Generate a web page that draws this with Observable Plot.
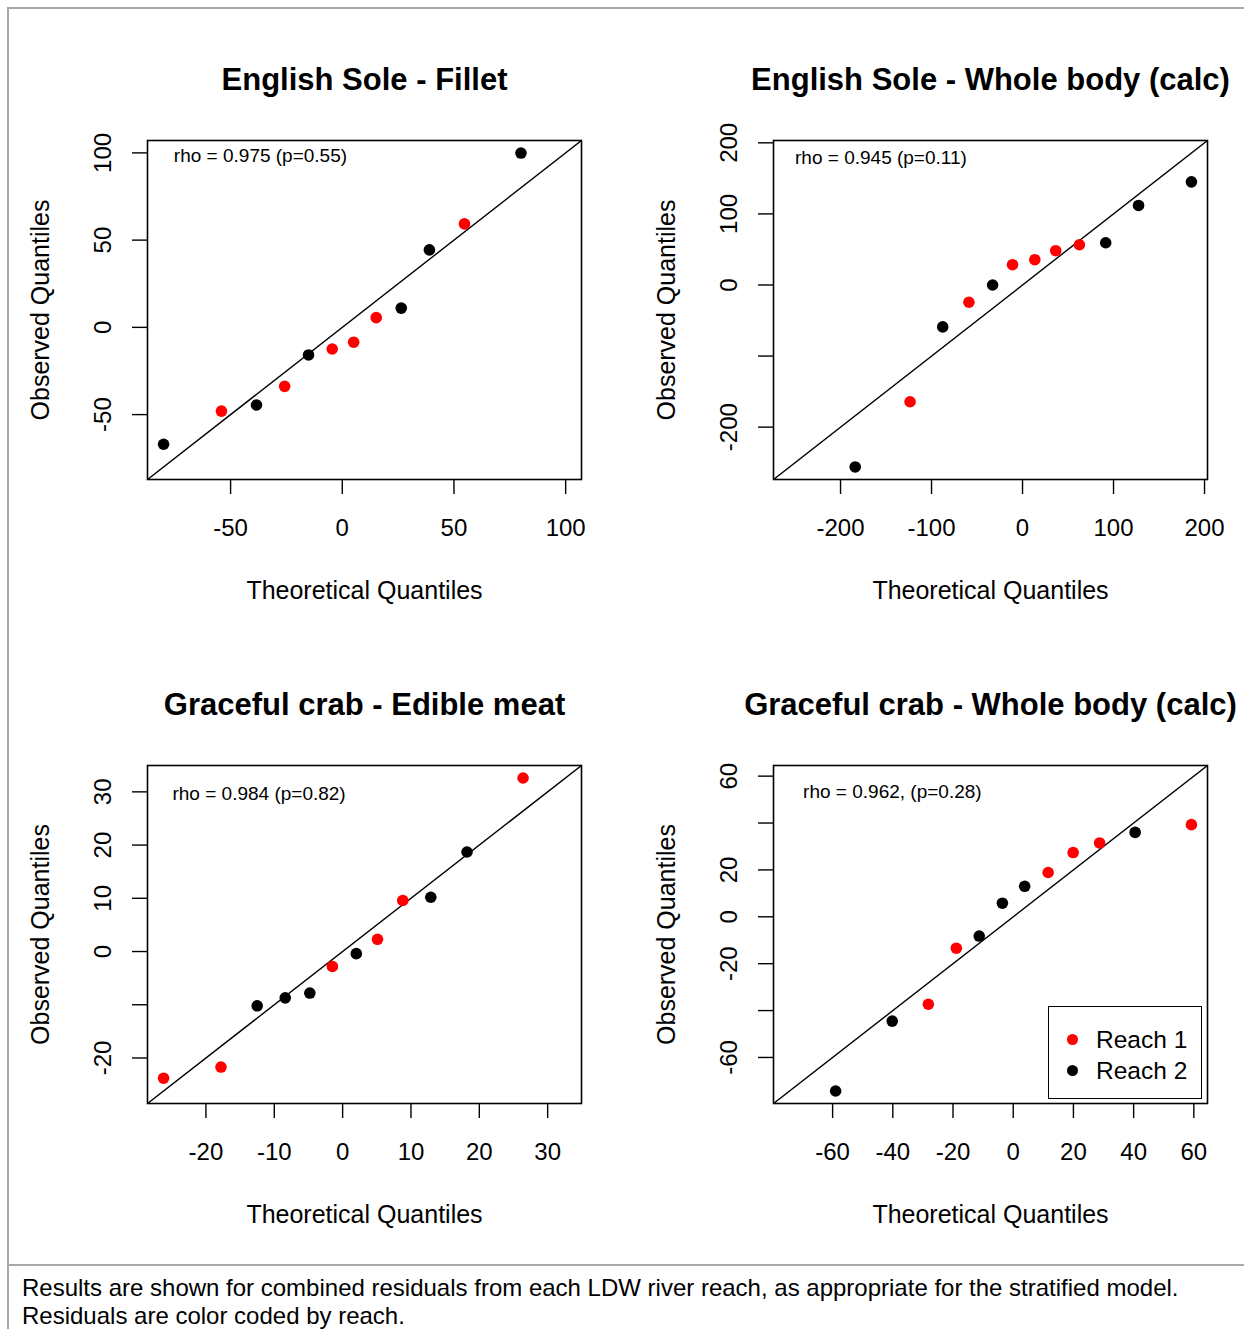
<!DOCTYPE html>
<html><head><meta charset="utf-8">
<script src="https://cdn.jsdelivr.net/npm/d3@7"></script>
<script src="https://cdn.jsdelivr.net/npm/@observablehq/plot@0.6"></script>
<style>
html,body{margin:0;padding:0;background:#fff;}
#root{position:relative;width:1244px;height:1329px;overflow:hidden;font-family:"Liberation Sans",Arial,Helvetica,sans-serif;color:#000;background:#fff;}
.outer{position:absolute;left:7px;top:7px;width:1260px;height:1360px;border-left:2px solid #a8a8a8;border-top:2px solid #a8a8a8;}
.sep{position:absolute;left:7px;top:1264px;width:1260px;height:0;border-top:2px solid #a8a8a8;}
.caption{position:absolute;left:22px;top:1274px;font-size:24px;line-height:28px;white-space:nowrap;}
.panel{position:absolute;}
.legend{position:absolute;left:1048px;top:1006px;width:154px;height:93px;box-sizing:border-box;border:1.5px solid #000;background:#fff;padding-top:17px;}
.legend .row{display:flex;align-items:center;height:31px;font-size:24.5px;}
.legend .sw{width:11px;height:11px;border-radius:50%;margin-left:18px;margin-right:18px;}
</style>
</head><body>
<div id="root">
  <div class="outer"></div>
  <div class="sep"></div>
</div>
<script>
// ---------------- data ----------------
const panelTitles = [
  "English Sole - Fillet",
  "English Sole - Whole body (calc)",
  "Graceful crab - Edible meat",
  "Graceful crab - Whole body (calc)"
];
const rhoLabels = [
  "rho = 0.975 (p=0.55)",
  "rho = 0.945 (p=0.11)",
  "rho = 0.984 (p=0.82)",
  "rho = 0.962, (p=0.28)"
];
const reachNames = ["Reach 1", "Reach 2"];
const reachColors = ["#ff0000", "#000000"];
const xAxisTitle = "Theoretical Quantiles";
const yAxisTitle = "Observed Quantiles";
const captionLines = [
  "Results are shown for combined residuals from each LDW river reach, as appropriate for the stratified model.",
  "Residuals are color coded by reach."
];

// English Sole - Fillet
const esFilletTheo  = [-80.0, -54.1, -38.4, -25.8, -15.1, -4.5, 5.1, 15.2, 26.4, 39.0, 54.7, 80.0];
const esFilletObs   = [-67.0, -48.0, -44.5, -33.8, -15.8, -12.4, -8.5, 5.6, 11.0, 44.4, 59.3, 99.9];
const esFilletReach = [2, 1, 2, 1, 2, 1, 1, 1, 2, 2, 1, 2];
// English Sole - Whole body (calc)
const esWholeTheo  = [-183.9, -123.6, -87.7, -58.9, -32.9, -11.0, 13.5, 36.5, 62.5, 91.4, 127.5, 185.6];
const esWholeObs   = [-256.0, -164.3, -59.0, -24.3, 0.0, 28.5, 35.6, 48.2, 56.6, 59.4, 111.9, 145.1];
const esWholeReach = [2, 1, 2, 1, 2, 1, 1, 1, 1, 2, 2, 2];
// Graceful crab - Edible meat
const gcMeatTheo  = [-26.2, -17.8, -12.5, -8.4, -4.8, -1.5, 2.0, 5.1, 8.8, 12.9, 18.2, 26.4];
const gcMeatObs   = [-23.8, -21.7, -10.2, -8.7, -7.8, -2.8, -0.4, 2.3, 9.6, 10.2, 18.7, 32.6];
const gcMeatReach = [1, 1, 2, 2, 2, 1, 2, 1, 1, 2, 2, 1];
// Graceful crab - Whole body (calc)
const gcWholeTheo  = [-59.0, -40.2, -28.2, -18.9, -11.3, -3.6, 3.8, 11.6, 19.9, 28.7, 40.5, 59.2];
const gcWholeObs   = [-74.3, -44.5, -37.3, -13.4, -8.2, 5.8, 13.0, 18.9, 27.4, 31.5, 36.0, 39.3];
const gcWholeReach = [2, 2, 1, 1, 2, 2, 2, 1, 1, 1, 2, 1];

// tick values (all ticks) and the labelled subset
const esFilletXTicks = [-50, 0, 50, 100];
const esFilletYTicks = [-50, 0, 50, 100];
const esFilletYLabels = [-50, 0, 50, 100];
const esWholeXTicks = [-200, -100, 0, 100, 200];
const esWholeYTicks = [-200, -100, 0, 100, 200];
const esWholeYLabels = [-200, 0, 100, 200];
const gcMeatXTicks = [-20, -10, 0, 10, 20, 30];
const gcMeatYTicks = [-20, -10, 0, 10, 20, 30];
const gcMeatYLabels = [-20, 0, 10, 20, 30];
const gcWholeXTicks = [-60, -40, -20, 0, 20, 40, 60];
const gcWholeYTicks = [-60, -40, -20, 0, 20, 40, 60];
const gcWholeYLabels = [-60, -20, 0, 20, 60];

// annotation anchor (data coordinates, like R's text())
const rhoX = [-75.4, -250, -24.9, -69.8];
const rhoY = [98.2, 178.5, 29.6, 53.4];

// ---------------- build ----------------
const panels = [
  {theo: esFilletTheo, obs: esFilletObs, reach: esFilletReach, xt: esFilletXTicks, yt: esFilletYTicks, yl: esFilletYLabels},
  {theo: esWholeTheo, obs: esWholeObs, reach: esWholeReach, xt: esWholeXTicks, yt: esWholeYTicks, yl: esWholeYLabels},
  {theo: gcMeatTheo, obs: gcMeatObs, reach: gcMeatReach, xt: gcMeatXTicks, yt: gcMeatYTicks, yl: gcMeatYLabels},
  {theo: gcWholeTheo, obs: gcWholeObs, reach: gcWholeReach, xt: gcWholeXTicks, yt: gcWholeYTicks, yl: gcWholeYLabels}
];
const layout = [
  {left: 0,   top: 0,   ml: 147, mr: 41, mt: 140, mb: 146},
  {left: 622, top: 0,   ml: 151, mr: 37, mt: 140, mb: 146},
  {left: 0,   top: 625, ml: 147, mr: 41, mt: 140, mb: 147},
  {left: 622, top: 625, ml: 151, mr: 37, mt: 140, mb: 147}
];
const FONT = '"Liberation Sans", Arial, Helvetica, sans-serif';
const root = document.getElementById("root");
const C = {fill: "#000", textAnchor: "middle", lineAnchor: "middle"};

panels.forEach((p, i) => {
  const data = p.theo.map((t, j) => ({theo: t, obs: p.obs[j], reach: reachNames[p.reach[j] - 1]}));
  const all = p.theo.concat(p.obs);
  const lo = d3.min(all), hi = d3.max(all), pad = (hi - lo) * 0.04;
  const dom = [lo - pad, hi + pad];
  const L = layout[i];
  const chart = Plot.plot({
    width: 622, height: 625,
    marginLeft: L.ml, marginRight: L.mr, marginTop: L.mt, marginBottom: L.mb,
    x: {domain: dom},
    y: {domain: dom},
    color: {domain: reachNames, range: reachColors},
    style: {fontFamily: FONT, background: "transparent", overflow: "visible", color: "#000"},
    marks: [
      Plot.line(dom.map(v => ({v})), {x: "v", y: "v", stroke: "#000", strokeWidth: 1.4, clip: true}),
      Plot.dot(data, {x: "theo", y: "obs", fill: "reach", r: 5.8}),
      Plot.frame({stroke: "#000", strokeWidth: 1.6}),
      Plot.axisX({ticks: p.xt, tickSize: 15, tickFormat: () => "", label: null, strokeWidth: 1.4}),
      Plot.axisY({ticks: p.yt, tickSize: 15, tickFormat: () => "", label: null, strokeWidth: 1.4}),
      Plot.text(p.xt, {...C, x: d => d, text: d => String(d), frameAnchor: "bottom", dy: 49, fontSize: 24}),
      Plot.text(p.yl, {...C, y: d => d, text: d => String(d), frameAnchor: "left", dx: -44, rotate: -90, fontSize: 24}),
      Plot.text([panelTitles[i]], {...C, frameAnchor: "top", dy: -60, fontSize: 31, fontWeight: "bold"}),
      Plot.text([xAxisTitle], {...C, frameAnchor: "bottom", dy: 111, fontSize: 25}),
      Plot.text([yAxisTitle], {...C, frameAnchor: "left", dx: -107, rotate: -90, fontSize: 25}),
      Plot.text([{x: rhoX[i], y: rhoY[i], t: rhoLabels[i]}], {x: "x", y: "y", text: "t", textAnchor: "start", lineAnchor: "middle", fontSize: 19, fill: "#000"})
    ]
  });
  const wrap = document.createElement("div");
  wrap.className = "panel";
  wrap.style.left = L.left + "px";
  wrap.style.top = L.top + "px";
  wrap.appendChild(chart);
  root.appendChild(wrap);
});

// legend (last panel)
const legend = document.createElement("div");
legend.className = "legend";
reachNames.forEach((name, k) => {
  const row = document.createElement("div");
  row.className = "row";
  const sw = document.createElement("span");
  sw.className = "sw";
  sw.style.background = reachColors[k];
  const tx = document.createElement("span");
  tx.textContent = name;
  row.appendChild(sw); row.appendChild(tx);
  legend.appendChild(row);
});
root.appendChild(legend);

// caption
const cap = document.createElement("div");
cap.className = "caption";
cap.innerHTML = captionLines.map(s => `<div>${s}</div>`).join("");
root.appendChild(cap);
</script>
</body></html>
